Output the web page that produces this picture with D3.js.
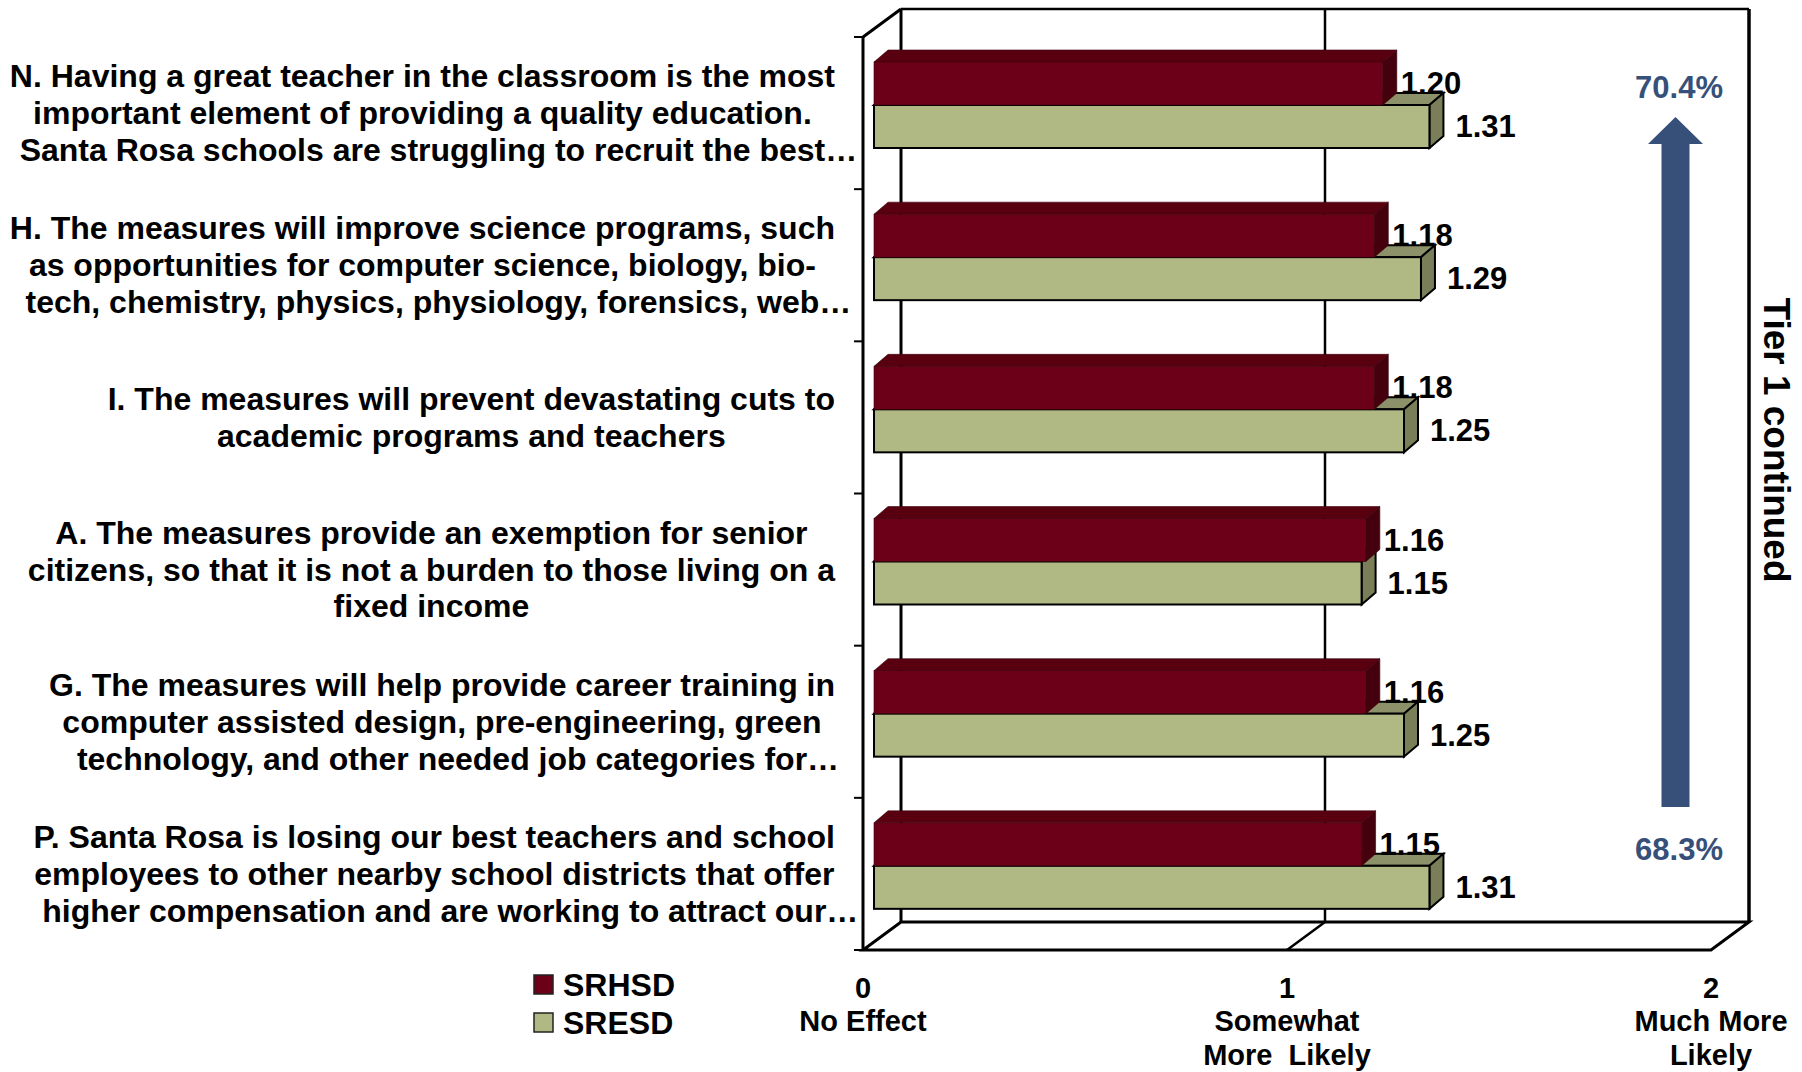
<!DOCTYPE html>
<html>
<head>
<meta charset="utf-8">
<script src="https://cdn.jsdelivr.net/npm/d3@7"></script>
<style>
  body { margin: 0; background: #fff; }
  text { font-family: "Liberation Sans", Arial, sans-serif; font-weight: bold; }
</style>
</head>
<body>
<div id="main"></div>
<script>
const categories = ['N', 'H', 'I', 'A', 'G', 'P'];
const labelLines = [
  ['N. Having a great teacher in the classroom is the most', 'important element of providing a quality education.', 'Santa Rosa schools are struggling to recruit the best…'],
  ['H. The measures will improve science programs, such', 'as opportunities for computer science, biology, bio-', 'tech, chemistry, physics, physiology, forensics, web…'],
  ['I. The measures will prevent devastating cuts to', 'academic programs and teachers'],
  ['A. The measures provide an exemption for senior', 'citizens, so that it is not a burden to those living on a', 'fixed income'],
  ['G. The measures will help provide career training in', 'computer assisted design, pre-engineering, green', 'technology, and other needed job categories for…'],
  ['P. Santa Rosa is losing our best teachers and school', 'employees to other nearby school districts that offer', 'higher compensation and are working to attract our…']
];
const srhsd = [1.20, 1.18, 1.18, 1.16, 1.16, 1.15];
const sresd = [1.31, 1.29, 1.25, 1.15, 1.25, 1.31];
const seriesNames = ['SRHSD', 'SRESD'];
const tickValues = [0, 1, 2];
const tickNames = [['No Effect'], ['Somewhat', 'More  Likely'], ['Much More', 'Likely']];
const tierHigh = '70.4%', tierLow = '68.3%';
const tierTitle = 'Tier 1 continued';

const width = 1802, height = 1072;
const front = { x: 863, top: 37, bottom: 950 };
const depth = { dx: 38, dy: -28 };   // back wall offset
const barDepth = { dx: 14, dy: -12 };
const barShift = 11;

const x = d3.scaleLinear().domain([0, 2]).range([front.x, 1711]);
const y = d3.scaleBand().domain(categories).range([front.top, front.bottom]);

const colors = {
  red: { front: '#6d0019', top: '#580010', side: '#45000d' },
  green: { front: '#b0b984', top: '#8c9169', side: '#7a7f59' }
};

const svg = d3.select('#main').append('svg').attr('width', width).attr('height', height);

// back wall + floor
const bx = v => x(v) + depth.dx;
const backTop = front.top + depth.dy, backBottom = front.bottom + depth.dy;
const frame = svg.append('g').attr('stroke', '#000').attr('fill', 'none').attr('stroke-width', 3);
frame.append('path').attr('d', `M${front.x},${front.bottom}L${x(2)},${front.bottom}L${bx(2)},${backBottom}L${bx(0)},${backBottom}Z`);
frame.append('line').attr('x1', bx(0)).attr('y1', backTop).attr('x2', bx(2)).attr('y2', backTop).attr('stroke-width', 2.5);
frame.append('line').attr('x1', bx(0)).attr('y1', backTop).attr('x2', bx(0)).attr('y2', backBottom);
frame.append('line').attr('x1', bx(2)).attr('y1', backTop).attr('x2', bx(2)).attr('y2', backBottom).attr('stroke-width', 3.5);
frame.append('line').attr('x1', bx(1)).attr('y1', backTop).attr('x2', bx(1)).attr('y2', backBottom).attr('stroke-width', 2.5);
frame.append('line').attr('x1', x(1)).attr('y1', front.bottom).attr('x2', bx(1)).attr('y2', backBottom).attr('stroke-width', 2.5);
frame.append('line').attr('x1', front.x).attr('y1', front.top).attr('x2', bx(0)).attr('y2', backTop);
frame.append('line').attr('x1', front.x).attr('y1', front.top).attr('x2', front.x).attr('y2', front.bottom);
const bounds = categories.map(c => y(c)).concat([front.bottom]);
frame.selectAll('line.tick').data(bounds).join('line').attr('class', 'tick')
  .attr('x1', front.x - 9).attr('x2', front.x).attr('y1', d => d).attr('y2', d => d).attr('stroke-width', 2);

// 3D bars
function bar(g, x0, x1, yTop, h, c, outline) {
  const { dx, dy } = barDepth;
  const sw = outline ? 2 : 0.6, sc = outline ? '#000' : '#3a000a';
  g.append('path').attr('d', `M${x0},${yTop}L${x1},${yTop}L${x1 + dx},${yTop + dy}L${x0 + dx},${yTop + dy}Z`)
    .attr('fill', c.top).attr('stroke', sc).attr('stroke-width', sw);
  g.append('path').attr('d', `M${x1},${yTop}L${x1 + dx},${yTop + dy}L${x1 + dx},${yTop + h + dy}L${x1},${yTop + h}Z`)
    .attr('fill', c.side).attr('stroke', sc).attr('stroke-width', sw);
  g.append('rect').attr('x', x0).attr('y', yTop).attr('width', x1 - x0).attr('height', h)
    .attr('fill', c.front).attr('stroke', sc).attr('stroke-width', sw);
}

const barH = 43;
const bars = svg.append('g');
categories.forEach((c, i) => {
  const top = y(c) + 25;
  bar(bars, x(0) + barShift, x(sresd[i]) + barShift, top + barH, barH, colors.green, true);
  bar(bars, x(0) + barShift, x(srhsd[i]) + barShift, top, barH, colors.red, false);
  bars.append('text').attr('x', x(srhsd[i]) + barShift + 18).attr('y', top + barH / 2)
    .attr('dominant-baseline', 'central').attr('font-size', 31).text(srhsd[i].toFixed(2));
  bars.append('text').attr('x', x(sresd[i]) + barShift + 26).attr('y', top + barH * 1.5)
    .attr('dominant-baseline', 'central').attr('font-size', 31).text(sresd[i].toFixed(2));
});

// category labels: lines centred inside a right-aligned block
const labelRight = 835, lineH = 36.8;
const labels = svg.append('g').attr('font-size', 32);
categories.forEach((c, i) => {
  const lines = labelLines[i];
  const cy = y(c) + y.bandwidth() / 2;
  const tmp = labels.append('text').attr('visibility', 'hidden');
  const widths = lines.map(l => { tmp.text(l.replace(/…$/, '')); return tmp.node().getComputedTextLength(); });
  tmp.remove();
  const cx = labelRight - d3.max(widths) / 2;
  lines.forEach((l, j) => {
    const w = widths[j];
    labels.append('text').attr('x', cx - w / 2).attr('y', cy + (j - (lines.length - 1) / 2) * lineH)
      .attr('dominant-baseline', 'central').text(l);
  });
});

// x axis labels
const xl = svg.append('g').attr('font-size', 29).attr('text-anchor', 'middle');
tickValues.forEach((v, i) => {
  xl.append('text').attr('x', x(v)).attr('y', 988).attr('dominant-baseline', 'central').text(v);
  tickNames[i].forEach((t, j) => {
    xl.append('text').attr('x', x(v)).attr('y', 1021 + j * 34).attr('dominant-baseline', 'central')
      .style('white-space', 'pre').text(t);
  });
});

// legend
const lg = svg.append('g').attr('font-size', 32);
seriesNames.forEach((s, i) => {
  const c = i === 0 ? colors.red : colors.green;
  lg.append('rect').attr('x', 534).attr('y', 975 + i * 38).attr('width', 19).attr('height', 19)
    .attr('fill', c.front).attr('stroke', '#222').attr('stroke-width', 1.5);
  lg.append('text').attr('x', 563).attr('y', 985 + i * 38).attr('dominant-baseline', 'central').text(s);
});

// tier arrow + percents
const blue = '#36507a';
const ax = 1675.5;
svg.append('path').attr('fill', blue)
  .attr('d', `M${ax},117L${ax + 27.5},144L${ax + 14},144L${ax + 14},807L${ax - 14},807L${ax - 14},144L${ax - 27.5},144Z`);
svg.append('text').attr('x', 1679).attr('y', 87).attr('text-anchor', 'middle').attr('dominant-baseline', 'central')
  .attr('font-size', 31).attr('fill', blue).text(tierHigh);
svg.append('text').attr('x', 1679).attr('y', 849).attr('text-anchor', 'middle').attr('dominant-baseline', 'central')
  .attr('font-size', 31).attr('fill', blue).text(tierLow);
svg.append('text').attr('transform', 'translate(1776,440) rotate(90)').attr('text-anchor', 'middle')
  .attr('dominant-baseline', 'central').attr('font-size', 37).text(tierTitle);
</script>
</body>
</html>
